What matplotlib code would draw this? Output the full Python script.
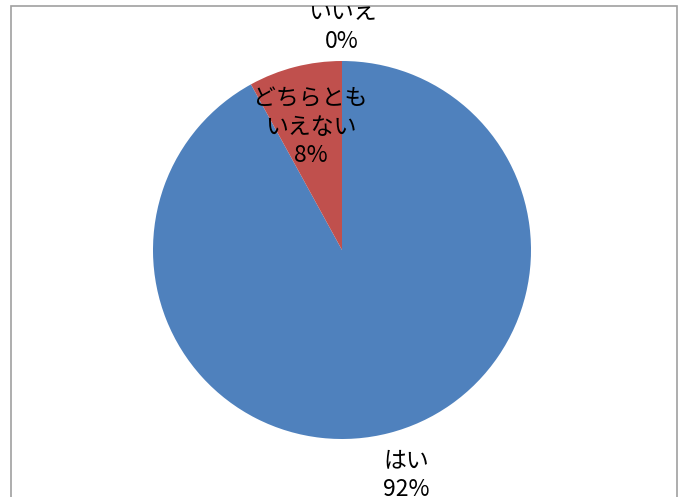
import numpy as np
import matplotlib.pyplot as plt
from matplotlib.patches import Rectangle

plt.rcParams['font.family'] = ['Noto Sans CJK JP', 'DejaVu Sans']

labels = ["はい", "どちらとも\nいえない", "いいえ"]
values = [92, 8, 0]
colors = ["#4F81BD", "#C0504D", "#9BBB59"]
label_dist = [1.23, 0.67, 1.18]

W, H = 685, 497
fig = plt.figure(figsize=(W / 100, H / 100), dpi=100)
# axes in pixel units, spanning the chart frame (its bottom edge is below the picture)
left, right, top, bottom = 11, 677, 6, 512
ax = fig.add_axes([left / W, (H - bottom) / H, (right - left) / W, (bottom - top) / H])
ax.set_axis_off()

cx, cy, r = 342, H - 250, 189
wedges, _ = ax.pie(values, colors=colors, startangle=90, counterclock=False,
                   center=(cx, cy), radius=r, frame=True)
ax.set_xlim(left, right)
ax.set_ylim(H - bottom, H - top)
ax.set_aspect('equal')

for w, lab, v, d in zip(wedges, labels, values, label_dist):
    ang = np.deg2rad((w.theta1 + w.theta2) / 2)
    x = cx + d * r * np.cos(ang) + (6 if v > 50 else 0)
    y = cy + d * r * np.sin(ang)
    ax.text(x, y, f"{lab}\n{v}%", ha='center', va='center', fontsize=16.5,
            linespacing=1.3, clip_on=True)

ax.add_patch(Rectangle((left, H - bottom), right - left, bottom - top,
                       fill=False, edgecolor='#A0A0A0', lw=1.2, clip_on=False))

fig.savefig("out.png", dpi=100)
